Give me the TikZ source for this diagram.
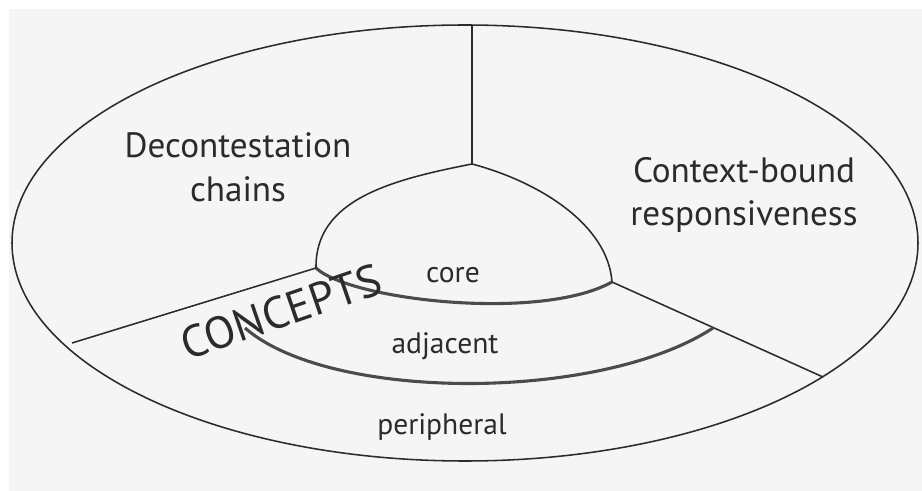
\documentclass[tikz,border=0pt]{standalone}
\usepackage{fontspec}
\setmainfont{PT Sans}
\definecolor{paper}{HTML}{F5F5F5}
\definecolor{ink}{HTML}{2B2B2B}

\begin{document}
\begin{tikzpicture}[x=0.025cm, y=-0.025cm,
    line/.style={draw=ink, line width=1.1pt},
    band/.style={draw=ink!85, line width=2.2pt},
    sector/.style={text=ink, font=\fontsize{25}{31}\selectfont, align=center},
    layer/.style={text=ink, font=\fontsize{21}{25}\selectfont}]
    \useasboundingbox (0,0) rectangle (922,491);
    \fill[white] (0,0) rectangle (922,491);
    \fill[paper] (9,9) rectangle (922,491);

    \coordinate (mid) at (465,243);
    \coordinate (top) at (472,25);
    \coordinate (apex) at (472,164);
    \coordinate (coreL) at (316,268);
    \coordinate (coreR) at (612,282);
    \coordinate (edgeL) at (72,343);
    \coordinate (edgeR) at (823,377);
    \coordinate (adjL) at (245,328);
    \coordinate (adjR) at (713,328);

    \draw[line] (mid) ellipse [x radius=453, y radius=218];
    \draw[line] (top) -- (apex);
    \draw[line] (edgeL) -- (coreL);
    \draw[line] (coreR) -- (edgeR);
    \draw[line] (coreL) .. controls (315,200) and (390,180) .. (apex)
        .. controls (540,182) and (608,225) .. (coreR);
    \draw[band] (coreL) .. controls (350,300) and (540,322) .. (coreR);
    \draw[band] (adjL) .. controls (330,402) and (600,402) .. (adjR);

    \node[sector] (dec) at (238,167) {Decontestation\\chains};
    \node[sector] (ctx) at (744,195) {Context-bound\\responsiveness};
    \node[layer] (core) at (453,275) {core};
    \node[layer] (adj) at (445,346) {adjacent};
    \node[layer] (peri) at (442,427) {peripheral};
    \node[text=ink, inner sep=0pt, font=\fontsize{32}{36}\selectfont, rotate=19] (concepts) at (281,312) {CONCEPTS};
\end{tikzpicture}
\end{document}
